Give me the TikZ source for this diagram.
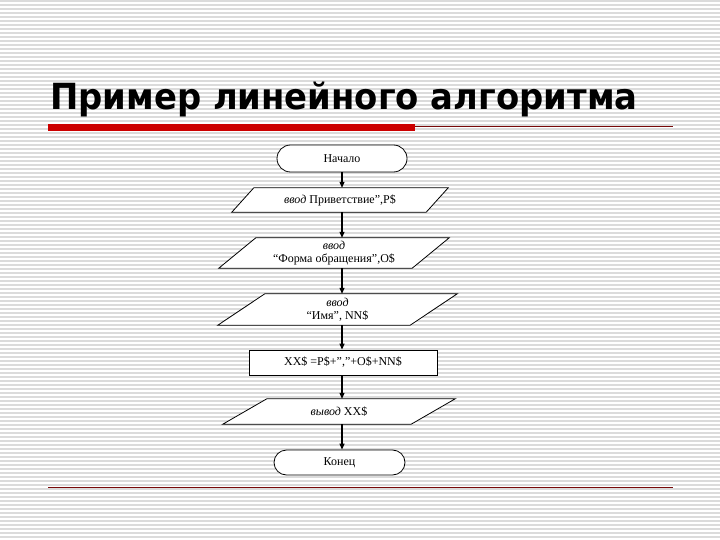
\documentclass[tikz,border=0pt]{standalone}
\usepackage{fontspec}
\setmainfont{Liberation Serif}
\newfontfamily\titlefont{DejaVu Sans}
\usetikzlibrary{shapes.misc,arrows.meta}
\definecolor{barred}{RGB}{204,0,0}
\definecolor{linered}{RGB}{120,10,10}
\pgfdeclarelayer{stripes}
\pgfdeclarelayer{shapes}
\pgfsetlayers{stripes,shapes,main}
\begin{document}
\begin{tikzpicture}[x=1pt,y=-1pt,
 stripe/.style={gray!28,line width=1.4pt},
 txt/.style={font=\fontsize{12}{13}\selectfont},
 term/.style={txt,rounded rectangle,draw,fill=white,inner sep=0pt,line width=0.8pt},
 iobox/.style={txt,inner sep=0pt,align=center},
 para/.style={draw,fill=white,line width=0.8pt},
 arr/.style={-{Triangle[length=6pt,width=5pt]},line width=1.2pt}]
\useasboundingbox (0,0) rectangle (720,540);
\begin{pgfonlayer}{stripes}
\fill[white] (0,0) rectangle (720,540);
\foreach \y in {0,4,...,540} \draw[stripe] (0,\y+1) -- (720,\y+1);
\end{pgfonlayer}
% title
\node[anchor=base west,inner sep=0pt,font=\titlefont\bfseries\fontsize{36}{40}\selectfont] (title) at (50,110) {\scalebox{0.94}[1]{Пример линейного алгоритма}};
\fill[barred] (48,124) rectangle (415,131);
\draw[linered,line width=0.8pt] (415,126) -- (673,126);
\draw[linered,line width=0.8pt] (48,487) -- (673,487);
% nodes
\node[term,minimum width=130pt,minimum height=27pt] (n0) at (342,158.5) {Начало};
\node[iobox,minimum width=194pt,minimum height=24pt] (p1) at (340,200) {\textit{ввод} Приветствие”,Р\$};
\node[iobox,minimum width=193pt,minimum height=30pt] (p2) at (334,253) {\textit{ввод}\\“Форма обращения”,О\$};
\node[iobox,minimum width=192pt,minimum height=31pt] (p3) at (337.5,309.5) {\textit{ввод}\\“Имя”, NN\$};
\node[txt,draw,fill=white,line width=0.8pt,minimum width=188pt,minimum height=25pt,inner sep=0pt] (r1) at (343,362.5) {XX\$ =P\$+”,”+O\$+NN\$};
\node[iobox,minimum width=188pt,minimum height=25pt] (p4) at (339,411.5) {\textit{вывод} XX\$};
\node[term,minimum width=131pt,minimum height=25pt] (n1) at (339.5,462.5) {Конец};
\begin{pgfonlayer}{shapes}
\foreach \n/\s in {p1/11,p2/18.5,p3/23.5,p4/22}
  \draw[para] ([xshift=\s pt]\n.north west) -- ([xshift=\s pt]\n.north east) -- ([xshift=-\s pt]\n.south east) -- ([xshift=-\s pt]\n.south west) -- cycle;
\end{pgfonlayer}
% connectors
\draw[arr] (n0.south) -- (n0.south |- p1.north);
\draw[arr] (n0.south |- p1.south) -- (n0.south |- p2.north);
\draw[arr] (n0.south |- p2.south) -- (n0.south |- p3.north);
\draw[arr] (n0.south |- p3.south) -- (n0.south |- r1.north);
\draw[arr] (n0.south |- r1.south) -- (n0.south |- p4.north);
\draw[arr] (n0.south |- p4.south) -- (n0.south |- n1.north);
\end{tikzpicture}
\end{document}
